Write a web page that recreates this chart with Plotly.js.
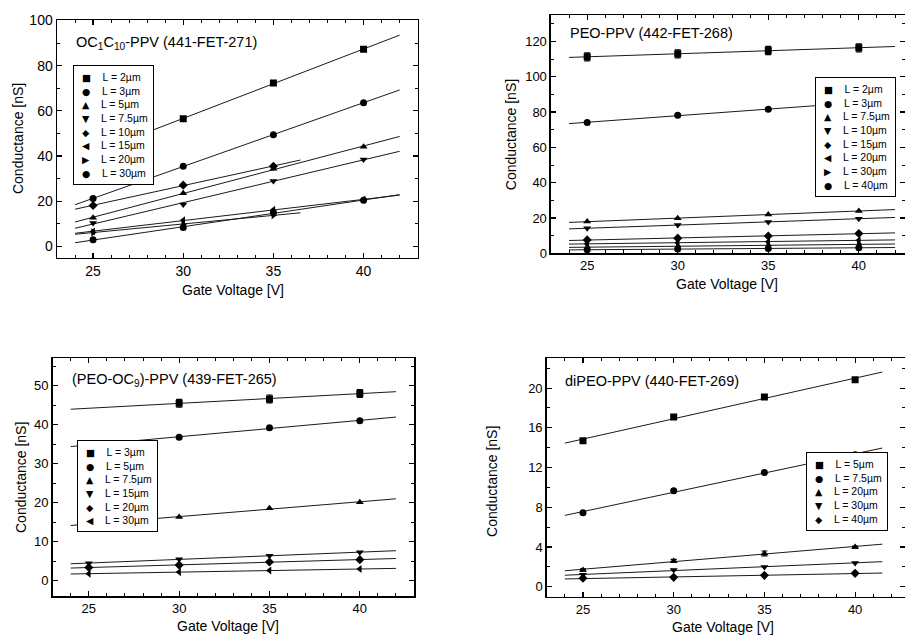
<!DOCTYPE html>
<html>
<head>
<meta charset="utf-8">
<script src="https://cdn.plot.ly/plotly-3.0.1.min.js"></script>
<style>html,body{margin:0;padding:0;background:#fff;}#chart{width:905px;height:636px;}</style>
</head>
<body>
<div id="chart"></div>
<script>
// ---------------- DATA ----------------
const gateVoltage = [25, 30, 35, 40];

// Panel A: OC1C10-PPV (441-FET-271)
const aLabels  = ['L = 2µm','L = 3µm','L = 5µm','L = 7.5µm','L = 10µm','L = 15µm','L = 20µm','L = 30µm'];
const aSymbols = ['square','circle','triangle-up','triangle-down','diamond','triangle-left','triangle-right','circle'];
const aL2   = [null, 56.5, 72.3, 87.2];
const aL3   = [21.2, 35.5, 49.4, 63.6];
const aL5   = [12.7, 23.5, 34.4, 44.1];
const aL7_5 = [10.4, 18.6, 28.9, 38.5];
const aL10  = [18.1, 27.1, 35.5, null];
const aL15  = [6.6, 11.6, 16.2, 20.7];
const aL20  = [6.2, 9.8, 13.8, null];
const aL30  = [2.9, 8.4, 15.0, 20.4];
const aFitEnd = [42, 42, 42, 42, 36.5, 42, 36.5, 42];

// Panel B: PEO-PPV (442-FET-268)
const bLabels  = ['L = 2µm','L = 3µm','L = 7.5µm','L = 10µm','L = 15µm','L = 20µm','L = 30µm','L = 40µm'];
const bSymbols = ['square','circle','triangle-up','triangle-down','diamond','triangle-left','triangle-right','circle'];
const bL2   = [111.3, 113.0, 114.9, 116.4];
const bL2err = [2.3, 2.3, 2.3, 2.3];
const bL3   = [74.1, 78.2, 81.6, 85.4];
const bL7_5 = [18.0, 19.8, 22.0, 24.0];
const bL10  = [14.2, 16.0, 17.8, 19.6];
const bL15  = [7.6, 8.6, 9.8, 11.2];
const bL20  = [5.4, 6.0, 6.6, 7.4];
const bL30  = [3.5, 4.0, 4.5, 5.1];
const bL40  = [2.0, 2.4, 2.8, 3.1];
const bFitEnd = [42, 42, 42, 42, 42, 42, 42, 42];

// Panel C: (PEO-OC9)-PPV (439-FET-265)
const cLabels  = ['L = 3µm','L = 5µm','L = 7.5µm','L = 15µm','L = 20µm','L = 30µm'];
const cSymbols = ['square','circle','triangle-up','triangle-down','diamond','triangle-left'];
const cL3   = [null, 45.5, 46.6, 48.0];
const cL3err = [0, 1.0, 1.0, 1.0];
const cL5   = [null, 36.8, 39.2, 41.0];
const cL7_5 = [null, 16.3, 18.6, 20.1];
const cL15  = [4.5, 5.5, 6.4, 7.3];
const cL20  = [3.4, 4.0, 4.8, 5.4];
const cL30  = [1.8, 2.2, 2.6, 3.0];
const cFitEnd = [42, 42, 42, 42, 42, 42];

// Panel D: diPEO-PPV (440-FET-269)
const dLabels  = ['L = 5µm','L = 7.5µm','L = 20µm','L = 30µm','L = 40µm'];
const dSymbols = ['square','circle','triangle-up','triangle-down','diamond'];
const dL5   = [14.7, 17.1, 19.1, 20.85];
const dL7_5 = [7.45, 9.67, 11.5, 13.3];
const dL20  = [1.7, 2.6, 3.35, 4.0];
const dL20err = [0.1, 0.15, 0.25, 0.1];
const dL30  = [1.2, 1.7, 2.0, 2.4];
const dL40  = [0.85, 0.95, 1.15, 1.35];
const dFitEnd = [41.5, 41.5, 41.5, 41.5, 41.5];

const fitStart = 24;

// ---------------- BUILD ----------------
const FONT = 'Liberation Sans, Arial, Helvetica, sans-serif';
const glyph = {'square':'■','circle':'●','triangle-up':'▲','triangle-down':'▼','diamond':'◆','triangle-left':'◀','triangle-right':'▶'};

function linFit(xs, ys){
  const p = xs.map((x,i)=>[x,ys[i]]).filter(q=>q[1]!==null);
  const n = p.length;
  const mx = p.reduce((s,q)=>s+q[0],0)/n, my = p.reduce((s,q)=>s+q[1],0)/n;
  let sxy=0, sxx=0;
  p.forEach(q=>{sxy+=(q[0]-mx)*(q[1]-my); sxx+=(q[0]-mx)*(q[0]-mx);});
  const m = sxy/sxx;
  return x => my + m*(x-mx);
}

const panels = [
  {ax:'', series:[aL2,aL3,aL5,aL7_5,aL10,aL15,aL20,aL30], errs:{}, labels:aLabels, symbols:aSymbols, fitEnd:aFitEnd},
  {ax:'2', series:[bL2,bL3,bL7_5,bL10,bL15,bL20,bL30,bL40], errs:{0:bL2err}, labels:bLabels, symbols:bSymbols, fitEnd:bFitEnd},
  {ax:'3', series:[cL3,cL5,cL7_5,cL15,cL20,cL30], errs:{0:cL3err}, labels:cLabels, symbols:cSymbols, fitEnd:cFitEnd},
  {ax:'4', series:[dL5,dL7_5,dL20,dL30,dL40], errs:{2:dL20err}, labels:dLabels, symbols:dSymbols, fitEnd:dFitEnd}
];

const traces = [];
panels.forEach(P=>{
  P.series.forEach((ys,i)=>{
    const f = linFit(gateVoltage, ys);
    const xe = P.fitEnd[i];
    traces.push({type:'scatter', mode:'lines', x:[fitStart, xe], y:[f(fitStart), f(xe)],
      xaxis:'x'+P.ax, yaxis:'y'+P.ax, line:{color:'#1a1a1a', width:1}, showlegend:false, hoverinfo:'skip'});
    const tr = {type:'scatter', mode:'markers', x:gateVoltage, y:ys, name:P.labels[i],
      xaxis:'x'+P.ax, yaxis:'y'+P.ax, showlegend:false,
      marker:{symbol:P.symbols[i], size:7, color:'black', line:{width:0}}};
    if (P.errs[i]) tr.error_y = {type:'data', array:P.errs[i], visible:true, color:'black', thickness:1.2, width:3};
    traces.push(tr);
  });
});

function axis(extra){
  return Object.assign({
    showline:true, linecolor:'black', linewidth:1.5, mirror:'allticks',
    ticks:'inside', ticklen:5, tickwidth:1.2, tickcolor:'black',
    showgrid:false, zeroline:false, automargin:false,
    tickfont:{family:FONT, size:13, color:'black'}
  }, extra);
}
function xminor(){ return {dtick:1, ticks:'inside', ticklen:3, tickwidth:1, tickcolor:'black', showgrid:false}; }
function yminor(d){ return {dtick:d, ticks:'inside', ticklen:3, tickwidth:1, tickcolor:'black', showgrid:false}; }

const layout = {
  width:905, height:636, margin:{l:0,r:0,t:0,b:0},
  paper_bgcolor:'white', plot_bgcolor:'white', showlegend:false,
  font:{family:FONT, color:'black'},
  xaxis:  axis({domain:[0.0630,0.4615], range:[23,43],    anchor:'y',  tick0:0, dtick:5, minor:xminor(), tickfont:{family:FONT,size:14,color:'black'}}),
  yaxis:  axis({domain:[0.5948,0.9679], range:[-5,100],   anchor:'x',  tick0:0, dtick:20, minor:yminor(10), tickfont:{family:FONT,size:14,color:'black'}}),
  xaxis2: axis({domain:[0.6088,1.0],    range:[23,42.55], anchor:'y2', tick0:0, dtick:5, minor:xminor()}),
  yaxis2: axis({domain:[0.6017,0.9764], range:[0,135],    anchor:'x2', tick0:0, dtick:20, minor:yminor(10)}),
  xaxis3: axis({domain:[0.0582,0.4575], range:[23,43],    anchor:'y3', tick0:0, dtick:5, minor:xminor()}),
  yaxis3: axis({domain:[0.0624,0.4366], range:[-4,57],    anchor:'x3', tick0:0, dtick:10, minor:yminor(5)}),
  xaxis4: axis({domain:[0.6041,1.0],    range:[23,42.75], anchor:'y4', tick0:0, dtick:5, minor:xminor()}),
  yaxis4: axis({domain:[0.0618,0.4366], range:[-1,23],    anchor:'x4', tick0:0, dtick:4, minor:yminor(2)}),
  annotations:[]
};

// panel titles
const titles = [
  {ax:'',  text:'OC<sub>1</sub>C<sub>10</sub>-PPV (441-FET-271)', x:0.047, y:0.905},
  {ax:'2', text:'PEO-PPV (442-FET-268)', x:0.049, y:0.923},
  {ax:'3', text:'(PEO-OC<sub>9</sub>)-PPV (439-FET-265)', x:0.048, y:0.909},
  {ax:'4', text:'diPEO-PPV (440-FET-269)', x:0.046, y:0.905}
];
titles.forEach(t=>layout.annotations.push({xref:'x'+t.ax+' domain', yref:'y'+t.ax+' domain', x:t.x, y:t.y,
  xanchor:'left', yanchor:'middle', showarrow:false, text:t.text, font:{family:FONT, size:14.5, color:'black'}}));

// legends (boxed)
const legPos = [{x:0.045,y:0.812},{x:0.746,y:0.741},{x:0.068,y:0.657},{x:0.724,y:0.606}];
panels.forEach((P,k)=>{
  const lines = P.labels.map((lab,i)=>'\u00a0<span style="font-family:DejaVu Sans;font-size:9.5px">'+glyph[P.symbols[i]]+'</span>\u00a0\u00a0\u00a0\u00a0'+lab);
  layout.annotations.push({xref:'x'+P.ax+' domain', yref:'y'+P.ax+' domain', x:legPos[k].x, y:legPos[k].y,
    xanchor:'left', yanchor:'top', align:'left', showarrow:false, text:lines.join('<br>'),
    bgcolor:'white', bordercolor:'black', borderwidth:1, borderpad:5,
    font:{family:FONT, size:10.5, color:'black'}});
});

// axis titles
const xt = [{x:0.2575,y:0.544},{x:0.8033,y:0.5535},{x:0.252,y:0.0158},{x:0.799,y:0.0135}];
const yt = [{x:0.0199,y:0.7814},{x:0.5646,y:0.789},{x:0.0232,y:0.25},{x:0.5436,y:0.2437}];
xt.forEach(p=>layout.annotations.push({xref:'paper', yref:'paper', x:p.x, y:p.y, xanchor:'center', yanchor:'middle',
  showarrow:false, text:'Gate Voltage [V]', font:{family:FONT, size:14, color:'black'}}));
yt.forEach(p=>layout.annotations.push({xref:'paper', yref:'paper', x:p.x, y:p.y, xanchor:'center', yanchor:'middle',
  textangle:-90, showarrow:false, text:'Conductance [nS]', font:{family:FONT, size:14, color:'black'}}));

Plotly.newPlot('chart', traces, layout, {staticPlot:true, displayModeBar:false});
</script>
</body>
</html>
